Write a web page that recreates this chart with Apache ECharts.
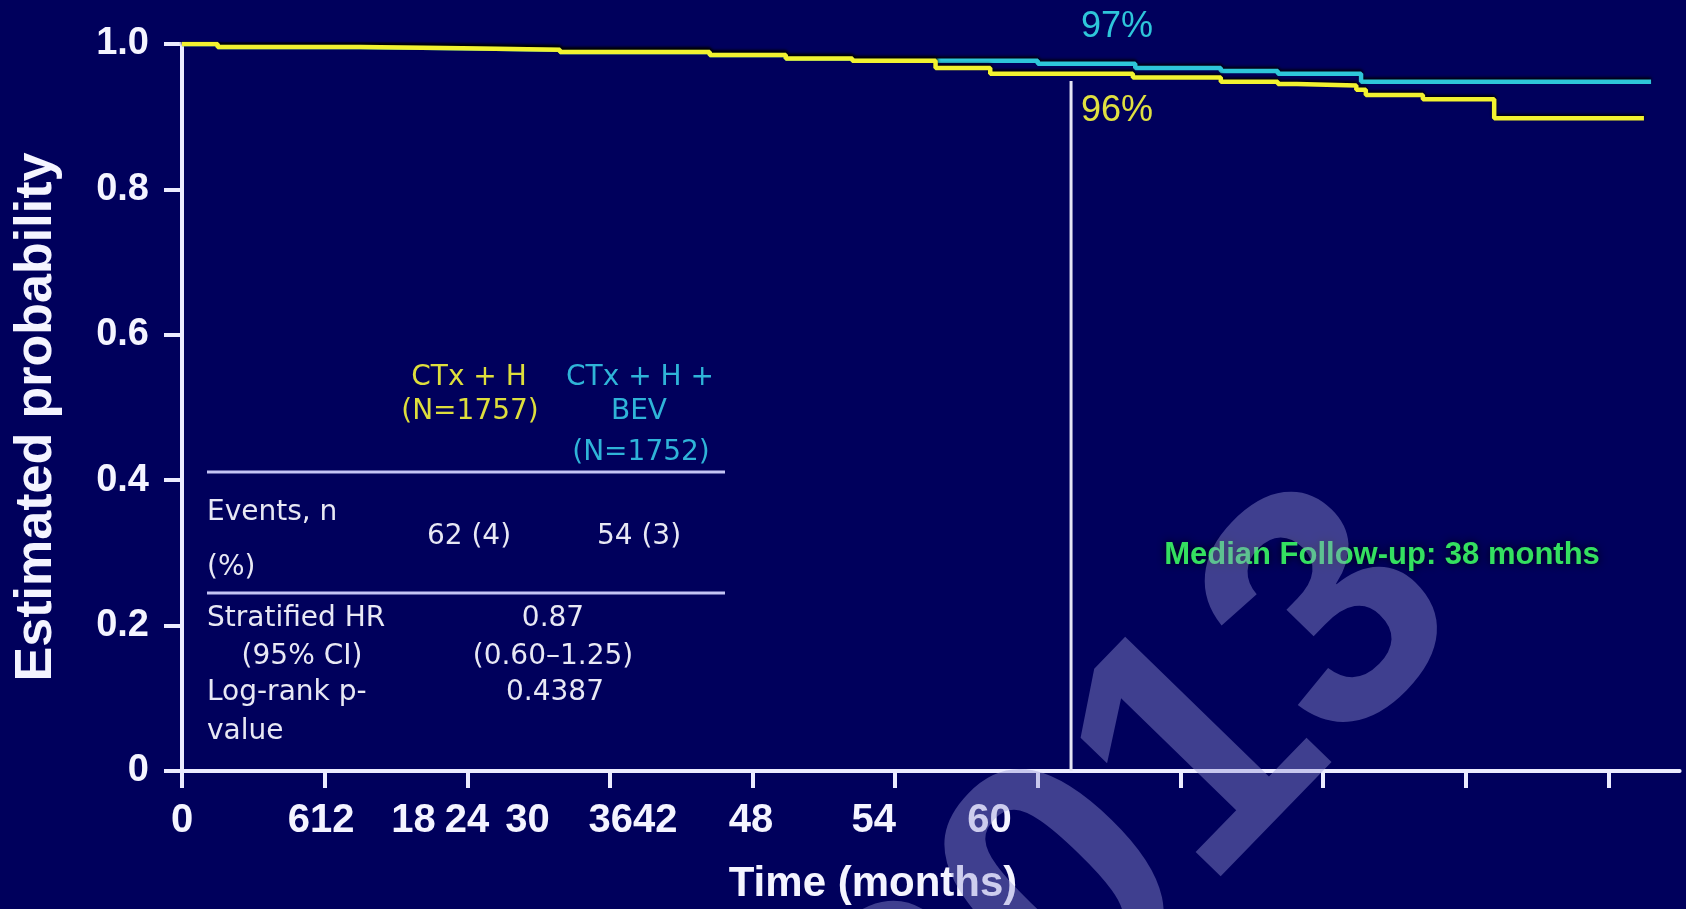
<!DOCTYPE html>
<html><head><meta charset="utf-8">
<script src="https://cdn.jsdelivr.net/npm/echarts@6/dist/echarts.min.js"></script>
<style>html,body{margin:0;padding:0;background:#00005c;overflow:hidden}#c{width:1686px;height:909px}</style>
</head><body><div id="c"></div>
<script>
// ---- data ----
const armA_time = [0, 1.5, 7.5, 11.8, 15.9, 22.2, 25.4, 28.2, 31.7, 34.0, 40.0, 43.7, 46.1, 46.9, 49.4, 49.8, 52.2, 55.2, 61.5];
const armA_surv = [1.000, 0.996, 0.994, 0.992, 0.989, 0.985, 0.980, 0.977, 0.967, 0.959, 0.954, 0.948, 0.945, 0.943, 0.937, 0.930, 0.924, 0.898, 0.898];
const armB_time = [0, 1.5, 7.5, 11.8, 15.9, 22.2, 25.4, 28.2, 36.0, 40.1, 43.7, 46.1, 49.6, 61.8];
const armB_surv = [1.000, 0.996, 0.994, 0.992, 0.989, 0.985, 0.980, 0.977, 0.973, 0.967, 0.963, 0.959, 0.948, 0.948];
const followUp_time = [37.4, 37.4];
const followUp_prob = [0, 0.949];
const xTickValues = [0, 6, 12, 18, 24, 30, 36, 42, 48, 54, 60];
const xLabelText = ['0', '612', '18', '24', '30', '3642', '48', '54', '60'];
const xLabelAt = [0, 5.85, 9.74, 11.99, 14.53, 18.97, 23.94, 29.1, 33.97];
const yTickLabels = {0: '0', 0.2: '0.2', 0.4: '0.4', 0.6: '0.6', 0.8: '0.8', 1: '1.0'};

const armA_name = 'CTx + H';
const armB_name = 'CTx + H + BEV';
const tableHeadA = ['CTx + H', '(N=1757)'];
const tableHeadB = ['CTx + H +', 'BEV', '(N=1752)'];
const rowLabels = ['Events, n', '(%)', 'Stratified HR', '(95% CI)', 'Log-rank p-', 'value'];
const eventsA = '62 (4)', eventsB = '54 (3)';
const hrValues = ['0.87', '(0.60–1.25)', '0.4387'];
const pctA = '96%', pctB = '97%';
const followUpText = 'Median Follow-up: 38 months';

function pairs(t, s) { return t.map((v, i) => [v, s[i]]); }

const WHITE = '#ececff';
const YEL = '#f2f230';
const CYA = '#2ec6da';
const tf = 'DejaVu Sans, Verdana, sans-serif';

function txt(x, y, text, fill, size, opts) {
  return {
    type: 'text', x: x, y: y, z: 50,
    style: Object.assign({text: text, fill: fill, font: size + 'px ' + tf, textAlign: 'center', textVerticalAlign: 'middle'}, opts || {})
  };
}

const chart = echarts.init(document.getElementById('c'), null, {renderer: 'canvas'});
const option = {
  backgroundColor: '#00005c',
  animation: false,
  grid: {left: 182, top: 44, width: 1497.6, height: 727, containLabel: false},
  xAxis: {
    type: 'value', min: 0, max: 63, interval: 6,
    axisLine: {show: true, lineStyle: {color: WHITE, width: 4}},
    axisTick: {show: true, customValues: xTickValues, length: 17, lineStyle: {color: WHITE, width: 4}},
    axisLabel: {
      customValues: xLabelAt,
      formatter: function (v) {
        let best = 0, bd = 1e9;
        xLabelAt.forEach((p, i) => { const d = Math.abs(p - v); if (d < bd) { bd = d; best = i; } });
        return xLabelText[best];
      },
      color: '#f4f4ff', fontSize: 40, fontWeight: 'bold', fontFamily: 'Liberation Sans, Arial, sans-serif', margin: 30
    },
    splitLine: {show: false}
  },
  yAxis: {
    type: 'value', min: 0, max: 1, interval: 0.2,
    axisLine: {show: true, lineStyle: {color: WHITE, width: 4}},
    axisTick: {show: true, length: 18, lineStyle: {color: WHITE, width: 4}},
    axisLabel: {
      formatter: function (v) { const k = Math.round(v * 10) / 10; return yTickLabels[k]; },
      color: '#f4f4ff', fontSize: 38, fontWeight: 'bold', fontFamily: 'Liberation Sans, Arial, sans-serif', margin: 33
    },
    splitLine: {show: false}
  },
  series: [
    {name: 'followup', type: 'line', data: pairs(followUp_time, followUp_prob), symbol: 'none',
     lineStyle: {color: '#e4e4f4', width: 3}, z: 2},
    {name: armB_name, type: 'line', step: 'end', data: pairs(armB_time, armB_surv), symbol: 'none',
     lineStyle: {color: CYA, width: 4.5, shadowColor: 'rgba(0,0,0,0.9)', shadowBlur: 3, shadowOffsetY: -2}, z: 3},
    {name: armA_name, type: 'line', step: 'end', data: pairs(armA_time, armA_surv), symbol: 'none',
     lineStyle: {color: YEL, width: 4.5, shadowColor: 'rgba(0,0,0,0.9)', shadowBlur: 3, shadowOffsetY: -2}, z: 4}
  ],
  graphic: [
    {type: 'text', x: 37, y: 417, rotation: Math.PI / 2, z: 50,
     style: {text: 'Estimated probability', fill: '#f4f4ff', font: 'bold 52px Liberation Sans, Arial, sans-serif', textAlign: 'center', textVerticalAlign: 'middle'}},
    {type: 'text', x: 873, y: 884, z: 50,
     style: {text: 'Time (months)', fill: '#f4f4ff', font: 'bold 42px Liberation Sans, Arial, sans-serif', textAlign: 'center', textVerticalAlign: 'middle'}},
    {type: 'text', x: 1117, y: 27, z: 50,
     style: {text: pctB, fill: CYA, font: '36px Liberation Sans, Arial, sans-serif', textAlign: 'center', textVerticalAlign: 'middle'}},
    {type: 'text', x: 1117, y: 111, z: 50,
     style: {text: pctA, fill: '#e0e040', font: '36px Liberation Sans, Arial, sans-serif', textAlign: 'center', textVerticalAlign: 'middle'}},
    {type: 'text', x: 1382, y: 555, z: 50,
     style: {text: followUpText, fill: '#34e060', font: 'bold 31px Liberation Sans, Arial, sans-serif', textAlign: 'center', textVerticalAlign: 'middle',
             textShadowColor: 'rgba(0,0,0,0.9)', textShadowBlur: 8}},
    // table
    txt(469, 378, tableHeadA[0], '#dede3c', 28),
    txt(470, 412, tableHeadA[1], '#dede3c', 28),
    txt(640, 378, tableHeadB[0], '#2fb4d8', 28),
    txt(639, 412, tableHeadB[1], '#2fb4d8', 28),
    txt(641, 453, tableHeadB[2], '#2fb4d8', 28),
    {type: 'line', z: 50, shape: {x1: 207, y1: 472, x2: 725, y2: 472}, style: {stroke: '#c4c4f4', lineWidth: 3}},
    txt(207, 513, rowLabels[0], '#e8e8f4', 28, {textAlign: 'left'}),
    txt(207, 568, rowLabels[1], '#e8e8f4', 28, {textAlign: 'left'}),
    txt(469, 537, eventsA, '#e8e8f4', 28),
    txt(639, 537, eventsB, '#e8e8f4', 28),
    {type: 'line', z: 50, shape: {x1: 207, y1: 593, x2: 725, y2: 593}, style: {stroke: '#c4c4f4', lineWidth: 3}},
    txt(207, 619, rowLabels[2], '#e8e8f4', 28, {textAlign: 'left'}),
    txt(302, 657, rowLabels[3], '#e8e8f4', 28),
    txt(207, 693, rowLabels[4], '#e8e8f4', 28, {textAlign: 'left'}),
    txt(207, 732, rowLabels[5], '#e8e8f4', 28, {textAlign: 'left'}),
    txt(553, 619, hrValues[0], '#e8e8f4', 28),
    txt(553, 657, hrValues[1], '#e8e8f4', 28),
    txt(555, 693, hrValues[2], '#e8e8f4', 28),
    // watermark
    {type: 'text', x: 1138, y: 826, rotation: 0.80, z: 100, silent: true,
     style: {text: '2013', fill: 'rgba(150,150,215,0.42)', font: 'bold 342px Liberation Sans, Arial, sans-serif', textAlign: 'center', textVerticalAlign: 'middle'}}
  ]
};
chart.setOption(option);
</script></body></html>
